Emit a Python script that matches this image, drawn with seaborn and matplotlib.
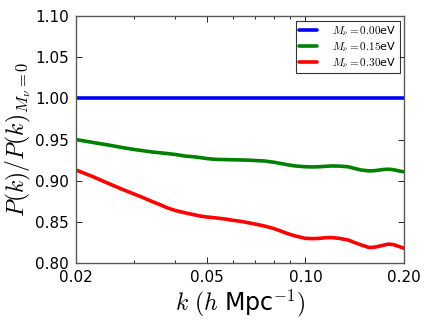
import numpy as np
import pandas as pd
import seaborn as sns
import matplotlib.pyplot as plt
from matplotlib.ticker import FixedLocator, FixedFormatter, NullFormatter

# wavenumbers (h/Mpc)
k = [0.020, 0.0225, 0.025, 0.0275, 0.030, 0.032, 0.034, 0.036, 0.038, 0.040,
     0.043, 0.046, 0.048, 0.050, 0.053, 0.057, 0.060, 0.064, 0.067, 0.071,
     0.075, 0.080, 0.084, 0.088, 0.093, 0.100, 0.105, 0.110, 0.115, 0.120,
     0.127, 0.135, 0.141, 0.148, 0.156, 0.162, 0.168, 0.174, 0.179, 0.185,
     0.190, 0.195, 0.200]
ratio_000 = [1.0] * len(k)
ratio_015 = [0.950, 0.9465, 0.9435, 0.9405, 0.938, 0.9365, 0.935, 0.934, 0.933, 0.932,
             0.930, 0.929, 0.928, 0.927, 0.926, 0.9257, 0.9255, 0.9252, 0.925, 0.9245,
             0.924, 0.9225, 0.921, 0.9195, 0.918, 0.917, 0.9168, 0.917, 0.9175, 0.918,
             0.9178, 0.917, 0.915, 0.913, 0.912, 0.9122, 0.913, 0.9138, 0.914, 0.9135,
             0.9125, 0.9115, 0.911]
ratio_030 = [0.913, 0.905, 0.897, 0.890, 0.884, 0.8795, 0.875, 0.871, 0.867, 0.864,
             0.861, 0.8585, 0.857, 0.856, 0.855, 0.8535, 0.852, 0.8505, 0.849, 0.847,
             0.845, 0.842, 0.839, 0.836, 0.833, 0.830, 0.8297, 0.830, 0.8308, 0.831,
             0.830, 0.828, 0.825, 0.822, 0.819, 0.8192, 0.8205, 0.822, 0.823, 0.8225,
             0.821, 0.8195, 0.818]
labels = [r'$M_\nu=0.00$eV', r'$M_\nu=0.15$eV', r'$M_\nu=0.30$eV']
colors = ['#0000ff', '#008000', '#ff0000']
xticks = [0.02, 0.05, 0.10, 0.20]
xticklabels = ['0.02', '0.05', '0.10', '0.20']
yticks = [0.80, 0.85, 0.90, 0.95, 1.00, 1.05, 1.10]

df = pd.concat([
    pd.DataFrame({'k': k, 'ratio': r, 'model': lab})
    for r, lab in zip([ratio_000, ratio_015, ratio_030], labels)
])

sns.set_style('ticks')
plt.rcParams['mathtext.fontset'] = 'cm'
plt.rcParams['font.family'] = ['DejaVu Sans']
plt.rcParams['text.color'] = 'black'
plt.rcParams['axes.labelcolor'] = 'black'
plt.rcParams['xtick.color'] = 'black'
plt.rcParams['ytick.color'] = 'black'

fig = plt.figure(figsize=(4.3, 3.22), dpi=100)
ax = fig.add_axes([0.177, 0.183, 0.763, 0.767])
sns.lineplot(data=df, x='k', y='ratio', hue='model', palette=dict(zip(labels, colors)),
             linewidth=2.6, ax=ax)

ax.set_xscale('log')
ax.set_xlim(0.02, 0.2)
ax.set_ylim(0.80, 1.10)
ax.xaxis.set_major_locator(FixedLocator(xticks))
ax.xaxis.set_major_formatter(FixedFormatter(xticklabels))
ax.xaxis.set_minor_formatter(NullFormatter())
ax.set_yticks(yticks)
ax.set_yticklabels(['%.2f' % v for v in yticks])
ax.tick_params(which='both', direction='in', top=True, right=True, labelsize=11,
               color='black', labelcolor='black')
ax.tick_params(which='major', length=4, width=0.6, pad=5)
ax.tick_params(which='minor', length=2.5, width=0.6)
for s in ax.spines.values():
    s.set_color('0.35')
    s.set_linewidth(1.0)

ax.set_xlabel(r'$k\ (h$ Mpc$^{-1})$', fontsize=17, labelpad=2)
ax.set_ylabel(r'$P(k)/P(k)_{M_\nu=0}$', fontsize=17, labelpad=2)

leg = ax.legend(loc='upper right', fontsize=8, handlelength=1.6, frameon=True,
                fancybox=False, borderaxespad=0.4, labelspacing=0.2,
                borderpad=0.3, handletextpad=1.4)
leg.get_frame().set_edgecolor('black')
leg.get_frame().set_linewidth(0.8)

fig.savefig('out.png', dpi=100)
